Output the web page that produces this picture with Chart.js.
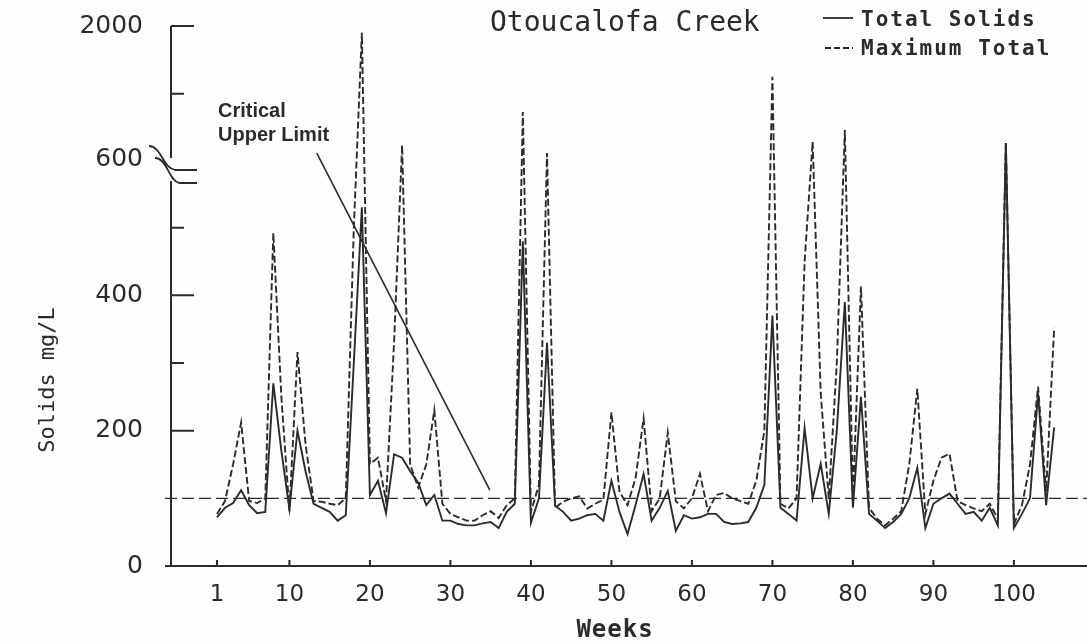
<!DOCTYPE html>
<html>
<head>
<meta charset="utf-8">
<title>Otoucalofa Creek</title>
<script src="https://cdn.jsdelivr.net/npm/chart.js@4.4.1/dist/chart.umd.min.js"></script>
<style>
  html, body { margin: 0; padding: 0; background: #fefefe; }
</style>
</head>
<body>
<canvas id="solidsChart" width="1087" height="644"></canvas>
<script>
// weekly samples
var weeks = [1, 2, 3, 4, 5, 6, 7, 8, 9, 10, 11, 12, 13, 14, 15, 16, 17, 18, 19, 20,
  21, 22, 23, 24, 25, 26, 27, 28, 29, 30, 31, 32, 33, 34, 35, 36, 37, 38, 39, 40,
  41, 42, 43, 44, 45, 46, 47, 48, 49, 50, 51, 52, 53, 54, 55, 56, 57, 58, 59, 60,
  61, 62, 63, 64, 65, 66, 67, 68, 69, 70, 71, 72, 73, 74, 75, 76, 77, 78, 79, 80,
  81, 82, 83, 84, 85, 86, 87, 88, 89, 90, 91, 92, 93, 94, 95, 96, 97, 98, 99, 100,
  101, 102, 103, 104, 105];

var totalSolids = [72, 86, 93, 112, 90, 78, 80, 270, 170, 84, 200, 140, 92, 86, 80, 67, 75, 300, 530, 105,
  126, 78, 165, 160, 140, 123, 90, 105, 67, 67, 62, 60, 60, 63, 65, 56, 80, 92, 480, 64,
  100, 330, 89, 80, 67, 70, 75, 77, 67, 126, 80, 47, 90, 136, 67, 86, 111, 52, 75, 70,
  72, 77, 77, 65, 62, 63, 65, 86, 120, 370, 86, 77, 67, 204, 100, 151, 77, 200, 390, 86,
  250, 77, 67, 56, 65, 77, 100, 145, 56, 92, 100, 107, 92, 77, 80, 67, 86, 60, 700, 56,
  77, 100, 255, 90, 205];

var maximumTotal = [77, 96, 150, 212, 96, 93, 100, 492, 250, 81, 316, 180, 96, 95, 92, 90, 100, 500, 1900, 151,
  160, 96, 330, 690, 150, 116, 150, 230, 92, 77, 72, 67, 67, 75, 81, 71, 90, 100, 890, 80,
  120, 642, 86, 95, 100, 103, 85, 92, 98, 227, 110, 90, 130, 218, 81, 100, 197, 96, 85, 100,
  136, 81, 105, 108, 100, 96, 92, 126, 200, 1250, 92, 85, 100, 450, 710, 255, 100, 300, 780, 100,
  413, 86, 70, 60, 70, 81, 150, 262, 77, 126, 160, 166, 96, 90, 85, 81, 92, 70, 710, 62,
  90, 150, 265, 110, 352];

var weekTicks = [1, 10, 20, 30, 40, 50, 60, 70, 80, 90, 100];
var valueTicks = [0, 200, 300, 400, 500, 600, 1000, 2000];
var labelledValues = [0, 200, 400, 600, 2000];
var longTickValues = [200, 400, 2000];
var shortTickValues = [300, 500, 1000];
var criticalLimit = 100;
var arrowFrom = { week: 13.4, value: 642 };
var arrowTo = { week: 34.9, value: 112 };

var ink = '#2b2b2b';

// the y axis is broken above 600: squeeze the upper range
function squash(v) {
  if (v <= 600) return v;
  if (v <= 1000) return 600 + (v - 600) * 0.245;
  return 698 + (v - 1000) * 0.1;
}
function unsquash(s) {
  if (s <= 600) return s;
  if (s <= 698) return 600 + (s - 600) / 0.245;
  return 1000 + (s - 698) / 0.1;
}

class BrokenScale extends Chart.LinearScale {
  getPixelForValue(v) {
    return v === null ? NaN : super.getPixelForValue(squash(v));
  }
  getValueForPixel(p) {
    return unsquash(super.getValueForPixel(p));
  }
}
BrokenScale.id = 'broken';
BrokenScale.defaults = Chart.LinearScale.defaults;
Chart.register(BrokenScale);

var paperPlugin = {
  id: 'paper',
  beforeDraw: function (chart) {
    var ctx = chart.ctx;
    ctx.save();
    ctx.fillStyle = '#fefefe';
    ctx.fillRect(0, 0, chart.width, chart.height);
    ctx.restore();
  },
  beforeDatasetsDraw: function (chart) {
    var ctx = chart.ctx, y = chart.scales.y, area = chart.chartArea;
    var py = y.getPixelForValue(criticalLimit);
    ctx.save();
    ctx.strokeStyle = ink;
    ctx.lineWidth = 1.4;
    ctx.setLineDash([12, 5]);
    ctx.beginPath();
    ctx.moveTo(area.left - 6, py);
    ctx.lineTo(chart.width, py);
    ctx.stroke();
    ctx.restore();
  },
  afterDatasetsDraw: function (chart) {
    var ctx = chart.ctx, x = chart.scales.x, y = chart.scales.y, area = chart.chartArea;
    var ax = area.left, y0 = y.getPixelForValue(0), yTop = y.getPixelForValue(2000);
    var p600 = y.getPixelForValue(600);
    ctx.save();
    ctx.strokeStyle = ink;
    ctx.fillStyle = ink;
    ctx.lineWidth = 2;
    ctx.lineCap = 'butt';

    // axes, with the gap in the y axis
    ctx.beginPath();
    ctx.moveTo(ax, yTop);
    ctx.lineTo(ax, p600 - 2);
    ctx.moveTo(ax, p600 + 21);
    ctx.lineTo(ax, y0);
    ctx.moveTo(ax - 6, y0);
    ctx.lineTo(chart.width, y0);
    ctx.stroke();

    // break marks
    ctx.lineWidth = 1.8;
    ctx.beginPath();
    ctx.moveTo(ax - 22, p600 - 14);
    ctx.bezierCurveTo(ax - 10, p600 - 14, ax - 8, p600 + 8, ax + 4, p600 + 10);
    ctx.lineTo(ax + 26, p600 + 10);
    ctx.moveTo(ax - 16, p600 - 2);
    ctx.bezierCurveTo(ax - 4, p600 - 2, ax - 2, p600 + 21, ax + 8, p600 + 23);
    ctx.lineTo(ax + 26, p600 + 23);
    ctx.stroke();

    // inward ticks
    ctx.lineWidth = 2;
    ctx.beginPath();
    longTickValues.forEach(function (v) {
      var py = y.getPixelForValue(v);
      ctx.moveTo(ax, py);
      ctx.lineTo(ax + 23, py);
    });
    shortTickValues.forEach(function (v) {
      var py = y.getPixelForValue(v);
      ctx.moveTo(ax, py);
      ctx.lineTo(ax + 13, py);
    });
    weekTicks.forEach(function (w) {
      var px = x.getPixelForValue(w);
      ctx.moveTo(px, y0);
      ctx.lineTo(px, y0 - 6);
    });
    ctx.stroke();

    // pointer to the critical limit
    ctx.lineWidth = 1.6;
    ctx.beginPath();
    ctx.moveTo(x.getPixelForValue(arrowFrom.week), y.getPixelForValue(arrowFrom.value));
    ctx.lineTo(x.getPixelForValue(arrowTo.week), y.getPixelForValue(arrowTo.value));
    ctx.stroke();

    ctx.font = 'bold 20px "Liberation Sans"';
    ctx.textAlign = 'left';
    ctx.textBaseline = 'alphabetic';
    ctx.fillText('Critical', 218, 117);
    ctx.fillText('Upper Limit', 218, 141);

    // title and legend
    ctx.font = '28px "DejaVu Sans Mono"';
    ctx.fillText('Otoucalofa Creek', 490, 31);

    ctx.lineWidth = 1.8;
    ctx.beginPath();
    ctx.moveTo(823, 18);
    ctx.lineTo(853, 18);
    ctx.stroke();
    ctx.setLineDash([6, 3]);
    ctx.beginPath();
    ctx.moveTo(825, 48);
    ctx.lineTo(853, 48);
    ctx.stroke();
    ctx.setLineDash([]);
    ctx.font = 'bold 21px "DejaVu Sans Mono"';
    ctx.letterSpacing = '2px';
    ctx.fillText('Total Solids', 861, 26);
    ctx.fillText('Maximum Total', 861, 55);

    // x axis title
    ctx.font = 'bold 24px "DejaVu Sans Mono"';
    ctx.letterSpacing = '1px';
    ctx.textAlign = 'center';
    ctx.fillText('Weeks', 615, 637);
    ctx.letterSpacing = '0px';

    // y axis title
    ctx.translate(48, 380);
    ctx.rotate(-Math.PI / 2);
    ctx.textBaseline = 'middle';
    ctx.font = '22px "DejaVu Sans Mono"';
    ctx.fillText('Solids mg/L', 0, 0);
    ctx.restore();
  }
};

var ctx = document.getElementById('solidsChart').getContext('2d');
var solidsChart = new Chart(ctx, {
  type: 'line',
  data: {
    datasets: [{
      label: 'Total Solids',
      data: weeks.map(function (w, i) { return { x: w, y: totalSolids[i] }; }),
      borderColor: ink,
      borderWidth: 1.9,
      pointRadius: 0,
      tension: 0,
      fill: false
    }, {
      label: 'Maximum Total',
      data: weeks.map(function (w, i) { return { x: w, y: maximumTotal[i] }; }),
      borderColor: ink,
      borderWidth: 1.9,
      borderDash: [7, 3],
      pointRadius: 0,
      tension: 0,
      fill: false
    }]
  },
  options: {
    responsive: false,
    animation: false,
    layout: { padding: { top: 26, right: 0, bottom: 0, left: 0 } },
    plugins: {
      legend: { display: false },
      tooltip: { enabled: false }
    },
    scales: {
      x: {
        type: 'linear',
        min: -4.71,
        max: 109.08,
        grid: { display: false, drawTicks: false },
        border: { display: false },
        afterBuildTicks: function (scale) {
          scale.ticks = weekTicks.map(function (w) { return { value: w }; });
        },
        afterFit: function (scale) {
          scale.height = 78;
          scale.paddingLeft = 0;
          scale.paddingRight = 0;
        },
        ticks: {
          autoSkip: false,
          maxRotation: 0,
          padding: 15,
          color: ink,
          font: { family: 'DejaVu Sans', size: 23 },
          callback: function (v) { return String(v); }
        }
      },
      y: {
        type: 'broken',
        min: 0,
        max: squash(2000),
        grid: { display: false, drawTicks: false },
        border: { display: false },
        afterBuildTicks: function (scale) {
          scale.ticks = valueTicks.map(function (v) { return { value: v }; });
        },
        afterFit: function (scale) {
          scale.width = 171;
          scale.paddingTop = 0;
          scale.paddingBottom = 0;
        },
        ticks: {
          autoSkip: false,
          padding: 28,
          color: ink,
          font: { family: 'DejaVu Sans', size: 25 },
          callback: function (v) {
            return labelledValues.indexOf(v) >= 0 ? String(v) : '';
          }
        }
      }
    }
  },
  plugins: [paperPlugin]
});
</script>
</body>
</html>
